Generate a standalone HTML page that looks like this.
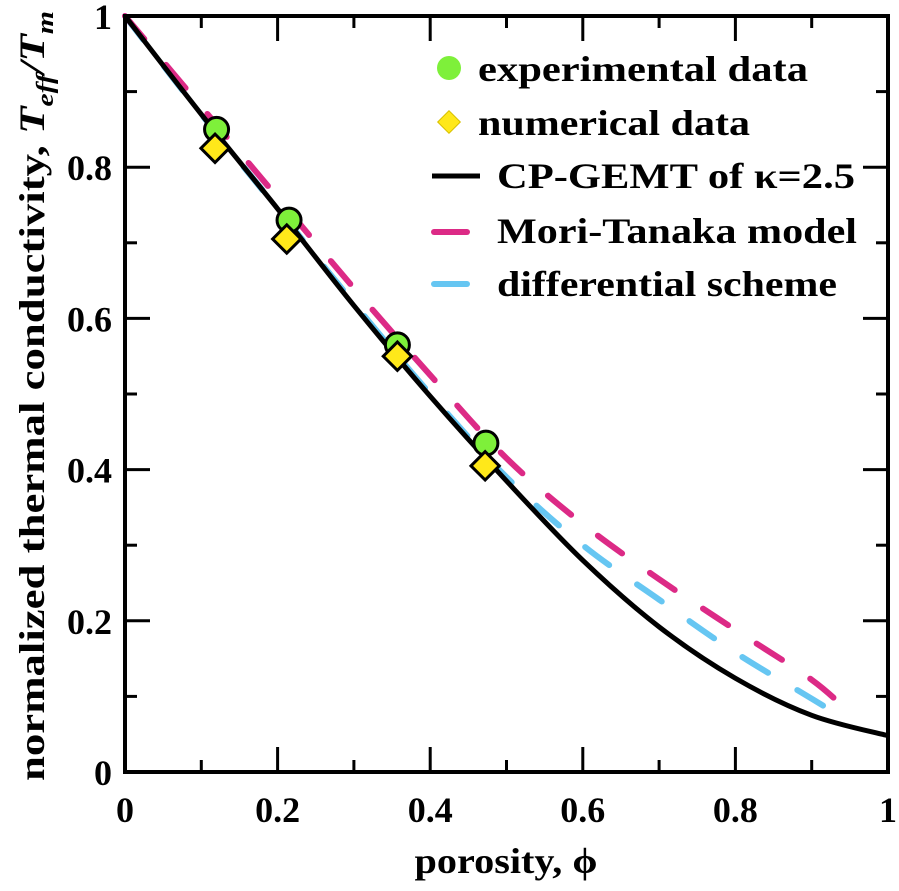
<!DOCTYPE html>
<html><head><meta charset="utf-8"><style>
body{margin:0;background:#fff}
svg{display:block;font-family:"Liberation Serif",serif;font-weight:bold}
</style></head><body>
<svg id="chart" width="899" height="891" viewBox="0 0 899 891" xmlns="http://www.w3.org/2000/svg">
<g id="curves"></g>
<g id="marks"></g>
<rect x="125" y="16" width="763" height="756" fill="none" stroke="#000" stroke-width="4"/>
<g id="axes"></g>
<text x="506" y="873" font-size="36" text-anchor="middle" textLength="183" lengthAdjust="spacingAndGlyphs">porosity, ϕ</text>
<text transform="translate(44,396) rotate(-90)" font-size="36" text-anchor="middle" textLength="770" lengthAdjust="spacingAndGlyphs">normalized thermal conductivity, <tspan font-style="italic">T<tspan font-size="24" dy="9">eff</tspan><tspan dy="-9">/T</tspan><tspan font-size="24" dy="9">m</tspan></tspan></text>
<g font-size="36">
<circle cx="449" cy="68" r="12" fill="#7ef03a"/>
<text x="478" y="81" textLength="330" lengthAdjust="spacingAndGlyphs">experimental data</text>
<rect x="441" y="114" width="16" height="16" fill="#ffe81a" stroke="#d8c000" transform="rotate(45 449 122)"/>
<text x="478" y="135" textLength="272" lengthAdjust="spacingAndGlyphs">numerical data</text>
<line x1="432" y1="176" x2="480" y2="176" stroke="#000" stroke-width="5"/>
<text x="497" y="188" textLength="358" lengthAdjust="spacingAndGlyphs">CP-GEMT of κ=2.5</text>
<line x1="434" y1="232" x2="467" y2="232" stroke="#dc2a86" stroke-width="6" stroke-linecap="round"/>
<text x="497" y="243" textLength="360" lengthAdjust="spacingAndGlyphs">Mori-Tanaka model</text>
<line x1="434" y1="284" x2="467" y2="284" stroke="#66c6f2" stroke-width="6" stroke-linecap="round"/>
<text x="497" y="296" textLength="340" lengthAdjust="spacingAndGlyphs">differential scheme</text>
</g>
</svg>
<script>
const xs = [0,0.1,0.2,0.3,0.4,0.5,0.6,0.7,0.8,0.9,1.0];
const cpgemt = [1,0.87,0.745,0.617,0.497,0.385,0.28,0.192,0.124,0.075,0.048];
const xsModel = [0,0.1,0.2,0.3,0.4,0.5,0.6,0.7,0.8,0.9,0.95];
const moriTanaka = [1,0.88,0.76,0.64,0.525,0.415,0.328,0.255,0.188,0.122,0.078];
const differential = [1,0.87,0.745,0.62,0.5,0.39,0.3,0.228,0.158,0.097,0.066];
const expX = [0.12,0.215,0.357,0.473];
const expY = [0.85,0.73,0.565,0.435];
const numX = [0.118,0.212,0.357,0.472];
const numY = [0.825,0.705,0.55,0.405];
const ticks = [0,0.2,0.4,0.6,0.8,1];
const tickLabels = ["0","0.2","0.4","0.6","0.8","1"];
const NS="http://www.w3.org/2000/svg";
const X=v=>125+v*763, Y=v=>772-v*756;
function path(xa,ya){
  const p=xa.map((x,i)=>[X(x),Y(ya[i])]);
  let d=`M${p[0][0]},${p[0][1]}`;
  for(let i=0;i<p.length-1;i++){
    const p0=p[i-1]||p[i],p1=p[i],p2=p[i+1],p3=p[i+2]||p2;
    d+=` C${p1[0]+(p2[0]-p0[0])/6},${p1[1]+(p2[1]-p0[1])/6} ${p2[0]-(p3[0]-p1[0])/6},${p2[1]-(p3[1]-p1[1])/6} ${p2[0]},${p2[1]}`;
  }
  return d;
}
const cg=document.getElementById('curves');
function addCurve(xa,ya,color,w,dash,name){
  const e=document.createElementNS(NS,'path');
  e.setAttribute('d',path(xa,ya));e.setAttribute('fill','none');e.setAttribute('stroke',color);
  e.setAttribute('stroke-width',w);if(dash)e.setAttribute('stroke-dasharray',dash);
  e.setAttribute('stroke-linecap',dash?'round':'butt');
  
  
  cg.appendChild(e);
}
addCurve(xsModel,differential,'#66c6f2',6,'30 34','differential-scheme-line');
addCurve(xsModel,moriTanaka,'#dc2a86',6,'30 34','mori-tanaka-line');
addCurve(xs,cpgemt,'#000',5,null,'cpgemt-line');
const mg=document.getElementById('marks');
expX.forEach((x,i)=>{
  const c=document.createElementNS(NS,'circle');
  c.setAttribute('cx',X(x));c.setAttribute('cy',Y(expY[i]));c.setAttribute('r',12);
  c.setAttribute('fill','#7ef03a');c.setAttribute('stroke','#000');c.setAttribute('stroke-width',3);
  
  
  mg.appendChild(c);
});
numX.forEach((x,i)=>{
  const r=document.createElementNS(NS,'rect');
  const cx=X(x),cy=Y(numY[i]);
  r.setAttribute('x',cx-10);r.setAttribute('y',cy-10);r.setAttribute('width',20);r.setAttribute('height',20);
  r.setAttribute('transform',`rotate(45 ${cx} ${cy})`);
  r.setAttribute('fill','#ffe81a');r.setAttribute('stroke','#000');r.setAttribute('stroke-width',3);
  
  
  mg.appendChild(r);
});
const ag=document.getElementById('axes');
function ln(x1,y1,x2,y2){const l=document.createElementNS(NS,'line');
  l.setAttribute('x1',x1);l.setAttribute('y1',y1);l.setAttribute('x2',x2);l.setAttribute('y2',y2);
  l.setAttribute('stroke','#000');l.setAttribute('stroke-width',3);
  
  
  ag.appendChild(l);}
for(let k=1;k<10;k++){const v=k/10,len=k%2?12:25;
  ln(X(v),772,X(v),772-len);ln(X(v),16,X(v),16+len);
  ln(125,Y(v),125+len,Y(v));ln(888,Y(v),888-len,Y(v));}
ticks.forEach((v,i)=>{
  const t=document.createElementNS(NS,'text');
  t.setAttribute('x',X(v));t.setAttribute('y',822);t.setAttribute('text-anchor','middle');t.setAttribute('font-size','36');
  t.textContent=tickLabels[i];
  
  
  ag.appendChild(t);
  const u=document.createElementNS(NS,'text');
  u.setAttribute('x',112);u.setAttribute('y',Y(v)+13);u.setAttribute('text-anchor','end');u.setAttribute('font-size','36');
  u.textContent=tickLabels[i];
  
  
  ag.appendChild(u);
});
</script>
</body></html>
